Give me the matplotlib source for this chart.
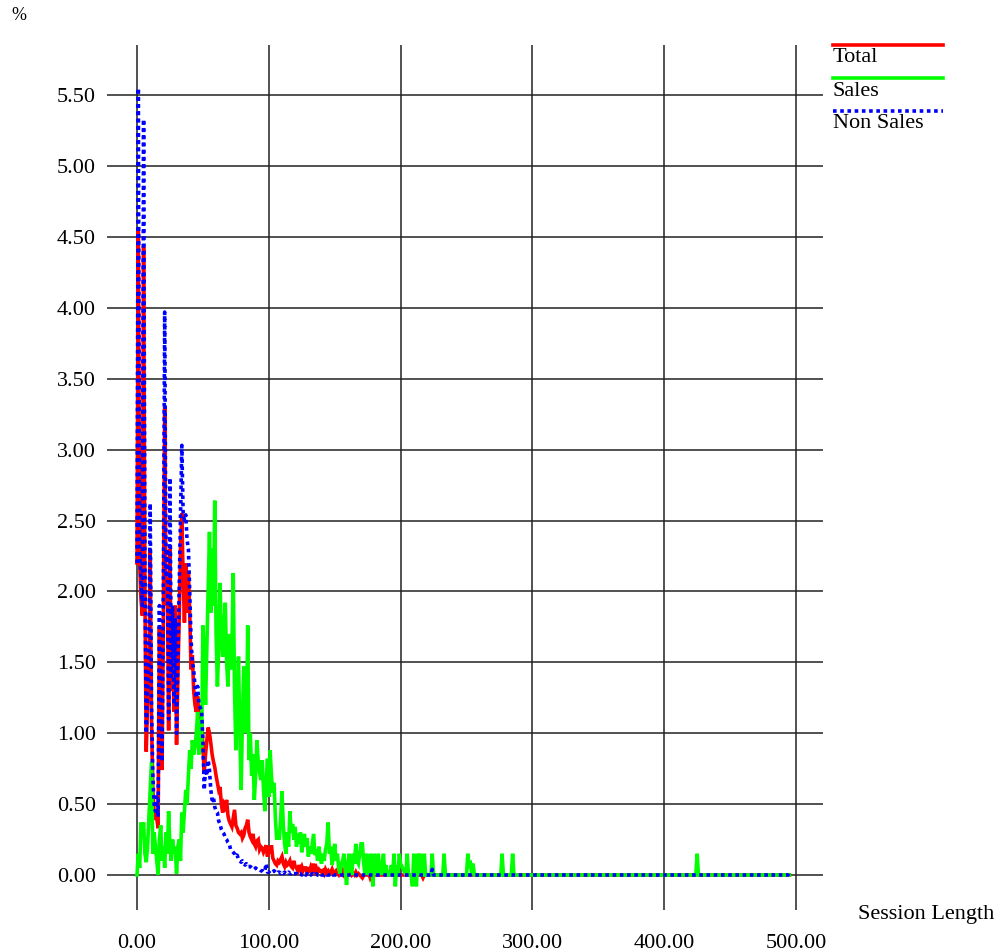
import matplotlib
matplotlib.use("Agg")
import matplotlib.pyplot as plt
from matplotlib.lines import Line2D

# ---------------- data ----------------
# dense part: session length 0..200 (step 1)
dense_x = list(range(0, 201))

total_dense = [
    2.20, 4.55, 2.20, 1.95, 1.83, 4.43, 2.00, 0.87, 1.20, 1.30,   # 0-9
    2.30, 1.10, 0.60, 0.45, 0.40, 0.40, 0.33, 1.75, 1.10, 0.74,   # 10-19
    1.80, 3.30, 1.90, 2.10, 1.02, 2.30, 1.30, 1.70, 1.15, 1.90,   # 20-29
    0.92, 1.40, 1.80, 2.30, 2.55, 2.10, 1.78, 2.20, 1.85, 2.13,   # 30-39
    1.85, 1.45, 1.55, 1.30, 1.20, 1.15, 1.26, 1.10, 1.15, 1.09,   # 40-49
    0.90, 0.72, 0.85, 0.95, 1.04, 1.00, 0.93, 0.85, 0.80, 0.76,   # 50-59
    0.70, 0.65, 0.60, 0.62, 0.50, 0.44, 0.50, 0.48, 0.53, 0.42,   # 60-69
    0.38, 0.36, 0.34, 0.40, 0.46, 0.35, 0.33, 0.30, 0.29, 0.30,   # 70-79
    0.26, 0.28, 0.33, 0.35, 0.39, 0.30, 0.27, 0.25, 0.29, 0.22,   # 80-89
    0.20, 0.24, 0.25, 0.18, 0.20, 0.19, 0.16, 0.18, 0.21, 0.13,   # 90-99
    0.20, 0.15, 0.21, 0.12, 0.10, 0.08, 0.07, 0.10, 0.09, 0.11,   # 100-109
    0.13, 0.08, 0.06, 0.09, 0.07, 0.08, 0.10, 0.06, 0.05, 0.10,   # 110-119
    0.06, 0.05, 0.03, 0.07, 0.04, 0.06, 0.03, 0.05, 0.05, 0.02,   # 120-129
    0.04, 0.03, 0.06, 0.04, 0.08, 0.03, 0.05, 0.02, 0.04, 0.03,   # 130-139
    0.02, 0.03, 0.01, 0.04, 0.02, 0.03, 0.01, 0.02, 0.04, 0.01,   # 140-149
    0.02, 0.03, 0.01, 0.00, 0.02, 0.01, 0.03, 0.00, 0.01, 0.02,   # 150-159
    0.00, 0.01, 0.02, 0.00, 0.01, 0.00, 0.02, 0.00, 0.01, 0.00,   # 160-169
    -0.01, -0.02, 0.00, 0.01, 0.00, 0.00, 0.01, -0.02, 0.00, 0.00,  # 170-179
    0.01, 0.00, 0.00, 0.01, 0.00, 0.00, 0.00, 0.01, 0.00, 0.00,   # 180-189
    0.00, 0.00, 0.01, 0.00, 0.00, 0.00, 0.00, 0.00, 0.00, 0.00,   # 190-199
    0.00,                                                         # 200
]

sales_dense = [
    0.00, 0.15, 0.05, 0.37, 0.30, 0.37, 0.15, 0.09, 0.20, 0.40,   # 0-9
    0.60, 0.80, 0.15, 0.30, 0.20, 0.10, 0.00, 0.25, 0.35, 0.10,   # 10-19
    0.20, 0.05, 0.30, 0.15, 0.45, 0.20, 0.10, 0.25, 0.15, 0.20,   # 20-29
    0.01, 0.20, 0.25, 0.10, 0.44, 0.30, 0.45, 0.60, 0.50, 0.70,   # 30-39
    0.88, 0.75, 0.95, 0.85, 0.90, 1.00, 1.15, 0.85, 1.10, 0.90,   # 40-49
    1.76, 1.55, 1.20, 1.60, 2.00, 2.42, 1.85, 2.30, 1.90, 2.64,   # 50-59
    1.70, 1.33, 1.60, 2.06, 1.70, 1.54, 1.75, 1.92, 1.50, 1.33,   # 60-69
    1.70, 1.45, 1.60, 2.13, 1.30, 0.88, 1.20, 1.54, 1.00, 0.60,   # 70-79
    1.10, 1.47, 1.30, 1.00, 1.76, 0.81, 1.00, 0.70, 0.85, 0.53,   # 80-89
    0.70, 0.95, 0.80, 0.72, 0.67, 0.81, 0.60, 0.45, 0.65, 0.82,   # 90-99
    0.55, 0.88, 0.70, 0.58, 0.65, 0.40, 0.25, 0.30, 0.25, 0.40,   # 100-109
    0.59, 0.35, 0.22, 0.15, 0.30, 0.20, 0.45, 0.30, 0.36, 0.25,   # 110-119
    0.34, 0.20, 0.29, 0.22, 0.30, 0.16, 0.22, 0.29, 0.20, 0.26,   # 120-129
    0.13, 0.20, 0.15, 0.22, 0.29, 0.14, 0.18, 0.10, 0.20, 0.12,   # 130-139
    0.08, 0.15, 0.10, 0.18, 0.22, 0.37, 0.15, 0.20, 0.07, 0.12,   # 140-149
    0.22, 0.10, 0.15, 0.05, 0.01, 0.08, 0.10, 0.15, 0.03, -0.07,  # 150-159
    0.08, 0.15, 0.05, 0.00, 0.15, 0.08, 0.22, 0.10, 0.08, 0.15,   # 160-169
    0.22, 0.22, 0.08, 0.00, 0.15, 0.08, 0.00, 0.15, 0.07, -0.08,  # 170-179
    0.15, 0.07, 0.00, 0.15, 0.05, 0.00, 0.07, 0.15, 0.00, 0.07,   # 180-189
    0.00, 0.00, 0.00, 0.07, 0.00, 0.15, -0.08, 0.07, 0.00, 0.15,  # 190-199
    0.08,                                                         # 200
]

nonsales_dense = [
    2.20, 5.55, 2.30, 2.10, 1.90, 5.33, 2.20, 1.00, 1.30, 1.50,   # 0-9
    2.62, 1.20, 0.70, 0.50, 0.45, 0.55, 0.41, 1.90, 1.20, 0.80,   # 10-19
    2.00, 3.97, 2.10, 2.30, 1.10, 2.80, 1.40, 1.90, 1.20, 1.80,   # 20-29
    1.00, 1.50, 2.00, 2.50, 3.03, 2.55, 2.50, 2.54, 2.36, 2.30,   # 30-39
    2.00, 1.66, 1.50, 1.45, 1.33, 1.25, 1.33, 1.20, 1.18, 1.16,   # 40-49
    0.95, 0.60, 0.75, 0.70, 0.81, 0.74, 0.60, 0.53, 0.55, 0.48,   # 50-59
    0.45, 0.44, 0.38, 0.36, 0.32, 0.30, 0.29, 0.26, 0.25, 0.23,   # 60-69
    0.22, 0.18, 0.17, 0.16, 0.15, 0.13, 0.14, 0.11, 0.10, 0.09,   # 70-79
    0.10, 0.08, 0.07, 0.08, 0.06, 0.06, 0.06, 0.05, 0.05, 0.04,   # 80-89
    0.05, 0.04, 0.04, 0.04, 0.03, 0.03, 0.02, 0.03, 0.08, 0.02,   # 90-99
    0.02, 0.03, 0.02, 0.02, 0.03, 0.02, 0.01, 0.02, 0.02, 0.01,   # 100-109
    0.02, 0.01, 0.02, 0.01, 0.01, 0.02, 0.01, 0.01, 0.02, 0.01,   # 110-119
    0.01, 0.01, 0.00, 0.01, 0.01, 0.00, 0.01, 0.01, 0.00, 0.01,   # 120-129
    0.00, 0.01, 0.00, 0.01, 0.00, 0.00, 0.01, 0.00, 0.00, 0.01,   # 130-139
    0.00, 0.00, 0.00, 0.01, 0.00, 0.00, 0.00, 0.00, 0.01, 0.00,   # 140-149
    0.00, 0.00, 0.00, 0.00, 0.00, 0.00, 0.00, 0.00, 0.00, 0.00,   # 150-159
    0.00, 0.00, 0.00, 0.00, 0.00, 0.00, 0.00, 0.00, 0.00, 0.00,   # 160-169
    0.00, 0.00, 0.00, 0.00, 0.00, 0.00, 0.00, 0.00, 0.00, 0.00,   # 170-179
    0.00, 0.00, 0.00, 0.00, 0.00, 0.00, 0.00, 0.00, 0.00, 0.00,   # 180-189
    0.00, 0.00, 0.00, 0.00, 0.00, 0.00, 0.00, 0.00, 0.00, 0.00,   # 190-199
    0.00,                                                         # 200
]

# sparse tail (session length > 200): only points where the value changes
total_tail_x = [216, 217, 218, 495]
total_tail_y = [0.00, -0.02, 0.00, 0.00]

sales_tail_x = [204, 205, 206, 208, 209, 210, 211, 212, 213, 214, 215, 216,
                217, 218, 219, 223, 224, 225, 232, 233, 234, 250, 251, 252,
                253, 254, 255, 256, 276, 277, 278, 284, 285, 286, 424, 425,
                426, 495]
sales_tail_y = [0.00, 0.15, 0.00, 0.00, -0.08, 0.15, 0.00, -0.08, 0.15, 0.00,
                0.15, 0.00, 0.00, 0.15, 0.00, 0.00, 0.15, 0.00, 0.00, 0.15,
                0.00, 0.00, 0.15, 0.07, 0.08, 0.00, 0.08, 0.00, 0.00, 0.15,
                0.00, 0.00, 0.15, 0.00, 0.00, 0.15, 0.00, 0.00]

nonsales_tail_x = [223, 224, 225, 494, 495]
nonsales_tail_y = [0.00, 0.04, 0.00, 0.00, 0.02]

x_ticks = [0, 100, 200, 300, 400, 500]
x_tick_labels = ["0.00", "100.00", "200.00", "300.00", "400.00", "500.00"]
y_ticks = [0.0, 0.5, 1.0, 1.5, 2.0, 2.5, 3.0, 3.5, 4.0, 4.5, 5.0, 5.5]
y_tick_labels = ["0.00", "0.50", "1.00", "1.50", "2.00", "2.50", "3.00",
                 "3.50", "4.00", "4.50", "5.00", "5.50"]
series_names = ["Total", "Sales", "Non Sales"]
series_colors = ["#ff0000", "#00ff00", "#0000ff"]

# ---------------- figure ----------------
plt.rcParams["font.family"] = ["Liberation Serif", "DejaVu Serif"]
W, H = 1006, 951
fig = plt.figure(figsize=(W / 100, H / 100), dpi=100)

left_px, right_px, top_px, bottom_px = 107, 823, 45, 910
ax = fig.add_axes([left_px / W, 1 - bottom_px / H,
                   (right_px - left_px) / W, (bottom_px - top_px) / H])

x0_px, x_per = 137.0, 131.8 / 100.0
y0_px, y_per = 875.0, 141.8
ax.set_xlim((left_px - x0_px) / x_per, (right_px - x0_px) / x_per)
ax.set_ylim(-(bottom_px - y0_px) / y_per, (y0_px - top_px) / y_per)

for s in ax.spines.values():
    s.set_visible(False)

grid_kw = dict(color="#222222", lw=1.1, zorder=1)
for yv in y_ticks:
    ax.axhline(yv, **grid_kw)
for xv in x_ticks:
    ax.axvline(xv, **grid_kw)

lw = 2.6
ax.plot(dense_x + total_tail_x, total_dense + total_tail_y,
        color=series_colors[0], lw=lw, zorder=3, solid_joinstyle="miter")
ax.plot(dense_x + sales_tail_x, sales_dense + sales_tail_y,
        color=series_colors[1], lw=lw, zorder=4, solid_joinstyle="miter")
ax.plot(dense_x + nonsales_tail_x, nonsales_dense + nonsales_tail_y,
        color=series_colors[2], lw=lw, zorder=5, linestyle=(0, (1, 1)))

fs = 16
ax.set_xticks(x_ticks)
ax.set_xticklabels(x_tick_labels, fontsize=fs)
ax.set_yticks(y_ticks)
ax.set_yticklabels(y_tick_labels, fontsize=fs)
ax.tick_params(axis="x", length=0, pad=17)
ax.tick_params(axis="y", length=0, pad=8)

fig.text(11 / W, 1 - 15 / H, "%", fontsize=13, va="center", ha="left")
fig.text(858 / W, 1 - 915 / H, "Session Length", fontsize=fs,
         va="center", ha="left")

# legend (drawn manually, outside the plot area)
leg_y = [45, 78, 111]
for name, col, yy in zip(series_names, series_colors, leg_y):
    ls = (0, (1, 1)) if name == "Non Sales" else "-"
    fig.add_artist(Line2D([833 / W, 943 / W], [1 - yy / H, 1 - yy / H],
                          color=col, lw=lw, linestyle=ls,
                          transform=fig.transFigure))
    fig.text(833 / W, 1 - (yy + 13) / H, name, fontsize=fs,
             va="center", ha="left")

fig.savefig("out.png", dpi=100)
